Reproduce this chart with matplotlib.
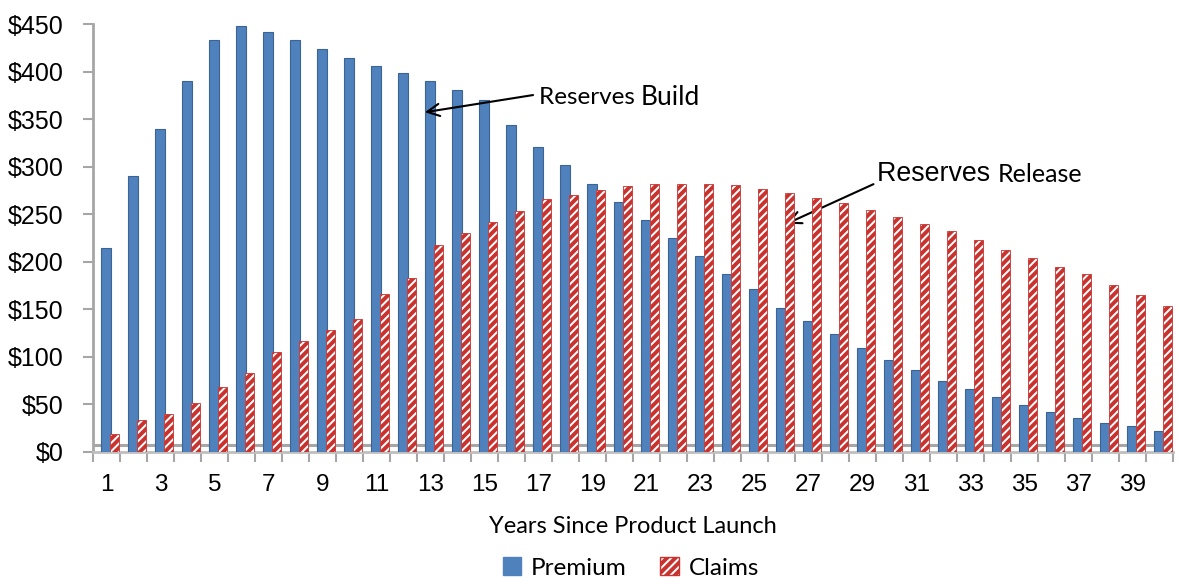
import matplotlib
matplotlib.use("Agg")
import matplotlib.pyplot as plt
import numpy as np
from matplotlib.patches import Patch

years = list(range(1, 41))
premium = [215, 290, 340, 390, 433, 448, 442, 433, 424, 415, 406, 399, 390, 381, 370,
           344, 321, 302, 282, 263, 244, 225, 206, 187, 171, 152, 138, 124, 109, 97,
           86, 75, 66, 58, 49, 42, 36, 31, 27, 22]
claims = [19, 34, 40, 52, 68, 83, 105, 117, 128, 140, 166, 183, 218, 230, 242,
          254, 266, 270, 276, 280, 282, 282, 282, 281, 277, 272, 267, 262, 255, 247,
          240, 232, 223, 213, 204, 195, 187, 176, 165, 154]
yticks = [0, 50, 100, 150, 200, 250, 300, 350, 400, 450]
ytick_labels = ["$" + str(v) for v in yticks]
xtick_labels = [str(y) for y in years if y % 2 == 1]

BLUE = "#4F81BD"
BLUE_EDGE = "#3B6396"
RED = "#C8322F"

plt.rcParams['hatch.linewidth'] = 2.8
fig = plt.figure(figsize=(11.79, 5.78), dpi=100)
ax = fig.add_axes([0.0789, 0.218, 0.916, 0.740])

x = np.array(years, dtype=float)
ax.bar(x - 0.02, premium, width=0.34, color=BLUE, edgecolor=BLUE_EDGE, linewidth=0.8, zorder=3)
ax.bar(x + 0.30, claims, width=0.32, color="white", edgecolor=RED, hatch="////",
       linewidth=0.6, zorder=4)

ax.set_xlim(0.5, 40.5)
ax.set_ylim(0, 450)

# floor
ax.axhline(7, color="#A6A6A6", lw=2.2, zorder=2)
for s in ["top", "right"]:
    ax.spines[s].set_visible(False)
ax.spines["left"].set_color("#A6A6A6")
ax.spines["left"].set_linewidth(2)
ax.spines["bottom"].set_color("#BFBFBF")
ax.spines["bottom"].set_linewidth(2)

ax.set_yticks(yticks)
ax.set_yticklabels(ytick_labels, fontsize=18, family="Liberation Sans")
ax.tick_params(axis="y", length=7, width=1.5, color="#A6A6A6", pad=14)

ax.set_xticks(np.arange(0.5, 41.0, 1.0))
ax.set_xticklabels([])
ax.tick_params(axis="x", which="major", length=7, width=1.5, color="#A6A6A6", direction="out")
ax.set_xticks([y for y in years if y % 2 == 1], minor=True)
ax.set_xticklabels(xtick_labels, minor=True, fontsize=17.5, family="Liberation Sans")
ax.tick_params(axis="x", which="minor", length=0, pad=16)

ax.set_xlabel("Years Since Product Launch", fontsize=17, family="Lato", labelpad=14)

# annotations
ax.annotate("", xy=(12.69, 357), xytext=(16.9, 376),
            arrowprops=dict(arrowstyle="->", color="black", lw=1.5, mutation_scale=22))
t1 = ax.text(17.0, 373, "Reserves ", fontsize=17.5, family="Lato", va="center", ha="left")
ax.annotate("Build", xycoords=t1, xy=(1, 0.5), va="center", ha="left", fontsize=19, family="Lato")

ax.annotate("", xy=(26.1, 239), xytext=(29.5, 283),
            arrowprops=dict(arrowstyle="->", color="black", lw=1.5, mutation_scale=22))
t2 = ax.text(29.55, 292, "Reserves ", fontsize=19.3, family="Liberation Sans", va="center", ha="left")
ax.annotate("Release", xycoords=t2, xy=(1, 0.5), va="center", ha="left", fontsize=18, family="Lato")

handles = [Patch(facecolor=BLUE, edgecolor=BLUE, label="Premium"),
           Patch(facecolor="white", edgecolor=RED, hatch="////", label="Claims")]
fig.legend(handles=handles, loc="center", bbox_to_anchor=(0.535, 0.017), ncol=2, frameon=False,
           prop={"family": "Lato", "size": 17.5}, handlelength=0.75, handleheight=0.75,
           columnspacing=1.4, handletextpad=0.4)

fig.savefig("out.png", dpi=100)
